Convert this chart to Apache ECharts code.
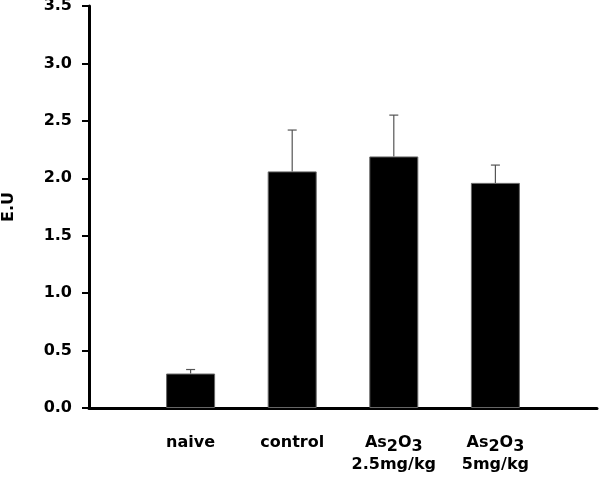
<!DOCTYPE html>
<html>
<head>
<meta charset="utf-8">
<script src="https://cdn.jsdelivr.net/npm/echarts@6/dist/echarts.min.js"></script>
<style>html,body{margin:0;padding:0;background:#fff}#c{width:600px;height:483px}</style>
</head>
<body>
<div id="c"></div>
<script>
var categories = ['', 'naive', 'control', 'As2O3\n2.5mg/kg', 'As2O3\n5mg/kg', ''];
var means = [null, 0.30, 2.06, 2.19, 1.96, null];
var errors = [null, 0.035, 0.36, 0.36, 0.155, null];
var yTicks = [0, 0.5, 1.0, 1.5, 2.0, 2.5, 3.0, 3.5];

var chart = echarts.init(document.getElementById('c'));
var font = '"DejaVu Sans", sans-serif';
var errData = [];
for (var i = 0; i < categories.length; i++) {
  if (means[i] != null) errData.push([i, means[i], means[i] + errors[i]]);
}
chart.setOption({
  animation: false,
  grid: {left: 89, right: 3, top: 6, bottom: 75, containLabel: false, outerBoundsMode: 'none'},
  xAxis: {
    type: 'category',
    data: categories,
    boundaryGap: false,
    axisLine: {lineStyle: {color: '#000', width: 3}},
    axisTick: {show: false},
    axisLabel: {
      interval: 0,
      margin: 24,
      color: '#000',
      fontFamily: font,
      fontWeight: 'bold',
      fontSize: 16,
      lineHeight: 22,
      formatter: function (v) {
        if (!v) return '';
        var parts = v.split('\n');
        var first = parts[0].replace('As2O3', '{a|As}{s|2}{a|O}{s|3}');
        if (first === parts[0]) first = '{a|' + first + '}';
        var out = first;
        if (parts[1]) out += '\n{a|' + parts[1] + '}';
        return out;
      },
      rich: {
        a: {fontFamily: font, fontWeight: 'bold', fontSize: 16, color: '#000', lineHeight: 22},
        s: {fontFamily: font, fontWeight: 'bold', fontSize: 16, color: '#000', lineHeight: 22, padding: [8, 0, 0, 0]}
      }
    }
  },
  yAxis: {
    type: 'value',
    min: 0, max: 3.5, interval: 0.5,
    name: 'E.U',
    nameLocation: 'middle',
    nameGap: 72,
    nameTextStyle: {color: '#000', fontFamily: font, fontWeight: 'bold', fontSize: 16},
    splitLine: {show: false},
    axisLine: {show: true, lineStyle: {color: '#000', width: 3}},
    axisTick: {show: true, length: 7, lineStyle: {color: '#000', width: 2}},
    axisLabel: {
      color: '#000', fontFamily: font, fontWeight: 'bold', fontSize: 16, margin: 17,
      formatter: function (v) { return v.toFixed(1); }
    }
  },
  series: [
    {
      type: 'bar',
      data: means,
      barWidth: 49,
      itemStyle: {color: '#000', borderColor: '#666', borderWidth: 1},
      z: 2
    },
    {
      type: 'custom',
      data: errData,
      z: 1,
      renderItem: function (params, api) {
        var top = api.coord([api.value(0), api.value(2)]);
        var base = api.coord([api.value(0), api.value(1)]);
        var half = 4.5;
        var st = {stroke: '#555', lineWidth: 1.2};
        return {
          type: 'group',
          children: [
            {type: 'line', shape: {x1: top[0], y1: top[1], x2: base[0], y2: base[1]}, style: st},
            {type: 'line', shape: {x1: top[0] - half, y1: top[1], x2: top[0] + half, y2: top[1]}, style: st}
          ]
        };
      }
    }
  ]
});
</script>
</body>
</html>
